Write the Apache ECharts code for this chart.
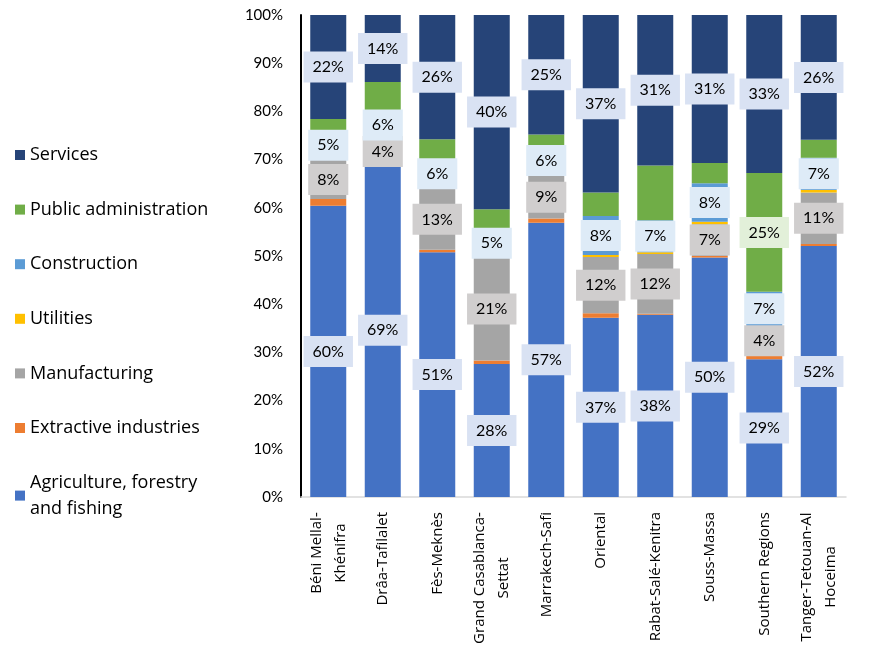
<!DOCTYPE html>
<html>
<head>
<meta charset="utf-8">
<script src="https://cdn.jsdelivr.net/npm/echarts@6/dist/echarts.min.js"></script>
<style>
html,body{margin:0;padding:0;background:#fff;}
#chart{width:886px;height:651px;}
</style>
</head>
<body>
<div id="chart"></div>
<script>
const categories = ['Béni Mellal-\nKhénifra', 'Drâa-Tafilalet', 'Fès-Meknès', 'Grand Casablanca-\nSettat', 'Marrakech-Safi', 'Oriental', 'Rabat-Salé-Kenitra', 'Souss-Massa', 'Southern Regions', 'Tanger-Tetouan-Al\nHoceima'];
const yTicks = [0, 10, 20, 30, 40, 50, 60, 70, 80, 90, 100];

const agriculture   = [60.4, 69.2, 50.8, 27.6, 56.9, 37.2, 37.8, 49.7, 28.6, 52.1];
const extractive    = [1.4, 0.4, 0.5, 0.7, 0.9, 0.9, 0.2, 0.3, 1.6, 0.4];
const manufacturing = [8.1, 4.2, 12.6, 21.4, 8.8, 11.7, 12.4, 6.6, 4.4, 10.7];
const utilities     = [0.4, 0.4, 0.1, 0.5, 0.2, 0.4, 0.4, 0.5, 0.9, 0.5];
const construction  = [5.4, 6.0, 6.1, 4.9, 6.0, 8.1, 6.6, 8.0, 7.1, 6.7];
const publicAdmin   = [2.7, 5.9, 4.1, 4.6, 2.4, 4.9, 11.4, 4.2, 24.6, 3.7];
const services      = [21.6, 13.9, 25.8, 40.3, 24.8, 36.8, 31.2, 30.7, 32.8, 25.9];

const seriesDefs = [
  {name: 'Agriculture, forestry\nand fishing', data: agriculture, color: '#4472C4', labelBg: '#D9E2F3', minLabel: 0},
  {name: 'Extractive industries', data: extractive, color: '#ED7D31', labelBg: null},
  {name: 'Manufacturing', data: manufacturing, color: '#A5A5A5', labelBg: '#D0CECE', minLabel: 0},
  {name: 'Utilities', data: utilities, color: '#FFC000', labelBg: null},
  {name: 'Construction', data: construction, color: '#5B9BD5', labelBg: '#DEEBF7', minLabel: 0},
  {name: 'Public administration', data: publicAdmin, color: '#70AD47', labelBg: '#E2F0D9', minLabel: 20},
  {name: 'Services', data: services, color: '#264478', labelBg: '#D9E2F3', minLabel: 0}
];

const series = seriesDefs.map(s => ({
  name: s.name,
  type: 'bar',
  stack: 'total',
  barWidth: 36,
  itemStyle: {color: s.color},
  emphasis: {disabled: true},
  label: {
    show: !!s.labelBg,
    position: 'inside',
    formatter: p => Math.round(p.value) + '%',
    color: '#000',
    fontFamily: 'Lato',
    fontSize: 16,
    backgroundColor: s.labelBg || 'transparent',
    padding: [8, 9, 7, 9]
  },
  data: s.data.map(v => ({
    value: v,
    label: {show: !!s.labelBg && v >= (s.minLabel || 0)}
  }))
}));

// centre the lines of multi-line category labels on each other
const xFont = '15px "Open Sans"';
const ctx = document.createElement('canvas').getContext('2d');
ctx.font = xFont;
const rich = {};
categories.forEach((c, i) => {
  const lines = c.split('\n');
  if (lines.length > 1) {
    const w = Math.max(...lines.map(l => ctx.measureText(l).width));
    rich['c' + i] = {width: Math.ceil(w), align: 'center', fontFamily: 'Open Sans', fontSize: 15, lineHeight: 24, color: '#000'};
  }
});

const chart = echarts.init(document.getElementById('chart'));
chart.setOption({
  animation: false,
  backgroundColor: '#fff',
  legend: {
    orient: 'vertical',
    left: 10,
    top: 137,
    itemWidth: 10,
    itemHeight: 10,
    itemGap: 28.6,
    icon: 'rect',
    data: seriesDefs.map(s => s.name).reverse(),
    textStyle: {fontFamily: 'Open Sans', fontSize: 18, color: '#000', lineHeight: 26}
  },
  grid: {left: 301, top: 15, right: 40, bottom: 154, containLabel: false},
  xAxis: {
    type: 'category',
    data: categories,
    axisLine: {lineStyle: {color: '#D9D9D9', width: 1.5}},
    axisTick: {show: false},
    axisLabel: {
      rotate: 90,
      interval: 0,
      margin: 15,
      fontFamily: 'Open Sans',
      fontSize: 15,
      color: '#000',
      lineHeight: 24,
      formatter: (value, idx) => {
        const lines = value.split('\n');
        if (lines.length === 1) return value;
        return lines.map(l => '{c' + idx + '|' + l + '}').join('\n');
      },
      rich: rich
    }
  },
  yAxis: {
    type: 'value',
    min: yTicks[0],
    max: yTicks[yTicks.length - 1],
    interval: 10,
    axisLine: {show: true, lineStyle: {color: '#000', width: 2}},
    axisTick: {show: false},
    splitLine: {show: false},
    axisLabel: {
      formatter: '{value}%',
      margin: 18,
      fontFamily: 'Lato',
      fontSize: 15,
      color: '#000'
    }
  },
  series: series
});
</script>
</body>
</html>
